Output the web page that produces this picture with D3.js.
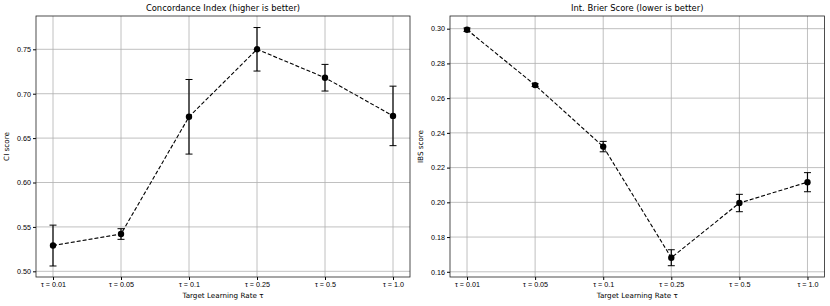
<!DOCTYPE html>
<html>
<head>
<meta charset="utf-8">
<script src="https://cdn.jsdelivr.net/npm/d3@7"></script>
<style>
  body { margin: 0; background: #fff; }
  svg { display: block; font-family: "DejaVu Sans", sans-serif; }
</style>
</head>
<body>
<div id="chart"></div>
<script>
const categories = ["τ = 0.01", "τ = 0.05", "τ = 0.1", "τ = 0.25", "τ = 0.5", "τ = 1.0"];

const ciMean = [0.529, 0.542, 0.674, 0.750, 0.718, 0.675];
const ciErr  = [0.023, 0.006, 0.042, 0.0245, 0.015, 0.0335];
const ciTicks = [0.50, 0.55, 0.60, 0.65, 0.70, 0.75];

const ibsMean = [0.2994, 0.2675, 0.2321, 0.1681, 0.1996, 0.2116];
const ibsErr  = [0.001, 0.0008, 0.003, 0.0046, 0.005, 0.0055];
const ibsTicks = [0.16, 0.18, 0.20, 0.22, 0.24, 0.26, 0.28, 0.30];

const width = 830, height = 306;

const svg = d3.select("#chart").append("svg")
    .attr("width", width)
    .attr("height", height);

function panel({left, right, top, bottom, yDomain, ticks, fmt, means, errs, title, yLabel}) {
    const x = d3.scaleLinear().domain([-0.25, categories.length - 0.75]).range([left, right]);
    const y = d3.scaleLinear().domain(yDomain).range([bottom, top]);
    const g = svg.append("g");

    // grid
    g.append("g").selectAll("line").data(categories).join("line")
        .attr("x1", (d, i) => x(i)).attr("x2", (d, i) => x(i))
        .attr("y1", top).attr("y2", bottom)
        .attr("stroke", "#b0b0b0").attr("stroke-width", 0.8);
    g.append("g").selectAll("line").data(ticks).join("line")
        .attr("x1", left).attr("x2", right)
        .attr("y1", d => y(d)).attr("y2", d => y(d))
        .attr("stroke", "#b0b0b0").attr("stroke-width", 0.8);

    // axes
    const xAxis = d3.axisBottom(x).tickValues(d3.range(categories.length))
        .tickFormat(i => categories[i]).tickSize(3).tickPadding(2).tickSizeOuter(0);
    const yAxis = d3.axisLeft(y).tickValues(ticks).tickFormat(d3.format(fmt))
        .tickSize(3).tickPadding(2).tickSizeOuter(0);
    g.append("g").attr("transform", `translate(0,${bottom})`).call(xAxis)
        .call(a => a.select(".domain").remove())
        .call(a => a.selectAll("text").attr("font-size", 7.2).attr("fill", "#000"));
    g.append("g").attr("transform", `translate(${left},0)`).call(yAxis)
        .call(a => a.select(".domain").remove())
        .call(a => a.selectAll("text").attr("font-size", 7.2).attr("fill", "#000"));

    g.append("rect")
        .attr("x", left).attr("y", top)
        .attr("width", right - left).attr("height", bottom - top)
        .attr("fill", "none").attr("stroke", "#222").attr("stroke-width", 0.8);

    // error bars
    const eb = g.append("g").attr("stroke", "#000").attr("stroke-width", 1.2);
    means.forEach((m, i) => {
        const cx = x(i), y1 = y(m + errs[i]), y2 = y(m - errs[i]);
        eb.append("line").attr("x1", cx).attr("x2", cx).attr("y1", y1).attr("y2", y2);
        eb.append("line").attr("x1", cx - 3.5).attr("x2", cx + 3.5).attr("y1", y1).attr("y2", y1).attr("stroke-width", 1);
        eb.append("line").attr("x1", cx - 3.5).attr("x2", cx + 3.5).attr("y1", y2).attr("y2", y2).attr("stroke-width", 1);
    });

    const line = d3.line().x((d, i) => x(i)).y(d => y(d));
    g.append("path").datum(means)
        .attr("d", line)
        .attr("fill", "none").attr("stroke", "#000")
        .attr("stroke-width", 1.1).attr("stroke-dasharray", "4,2");

    g.append("g").selectAll("circle").data(means).join("circle")
        .attr("cx", (d, i) => x(i)).attr("cy", d => y(d)).attr("r", 3.2)
        .attr("fill", "#000");

    g.append("text").attr("x", (left + right) / 2).attr("y", top - 5)
        .attr("text-anchor", "middle").attr("font-size", 8.4).text(title);
    g.append("text").attr("x", (left + right) / 2).attr("y", bottom + 21)
        .attr("text-anchor", "middle").attr("font-size", 7.2).text("Target Learning Rate τ");
    g.append("text")
        .attr("transform", `translate(${left - 27},${(top + bottom) / 2}) rotate(-90)`)
        .attr("text-anchor", "middle").attr("font-size", 7.2).text(yLabel);
}

panel({
    left: 36, right: 410, top: 16, bottom: 277,
    yDomain: [0.4936, 0.7875], ticks: ciTicks, fmt: ".2f",
    means: ciMean, errs: ciErr,
    title: "Concordance Index (higher is better)", yLabel: "CI score"
});

panel({
    left: 450, right: 824.5, top: 16, bottom: 277,
    yDomain: [0.157, 0.3073], ticks: ibsTicks, fmt: ".2f",
    means: ibsMean, errs: ibsErr,
    title: "Int. Brier Score (lower is better)", yLabel: "IBS score"
});
</script>
</body>
</html>
